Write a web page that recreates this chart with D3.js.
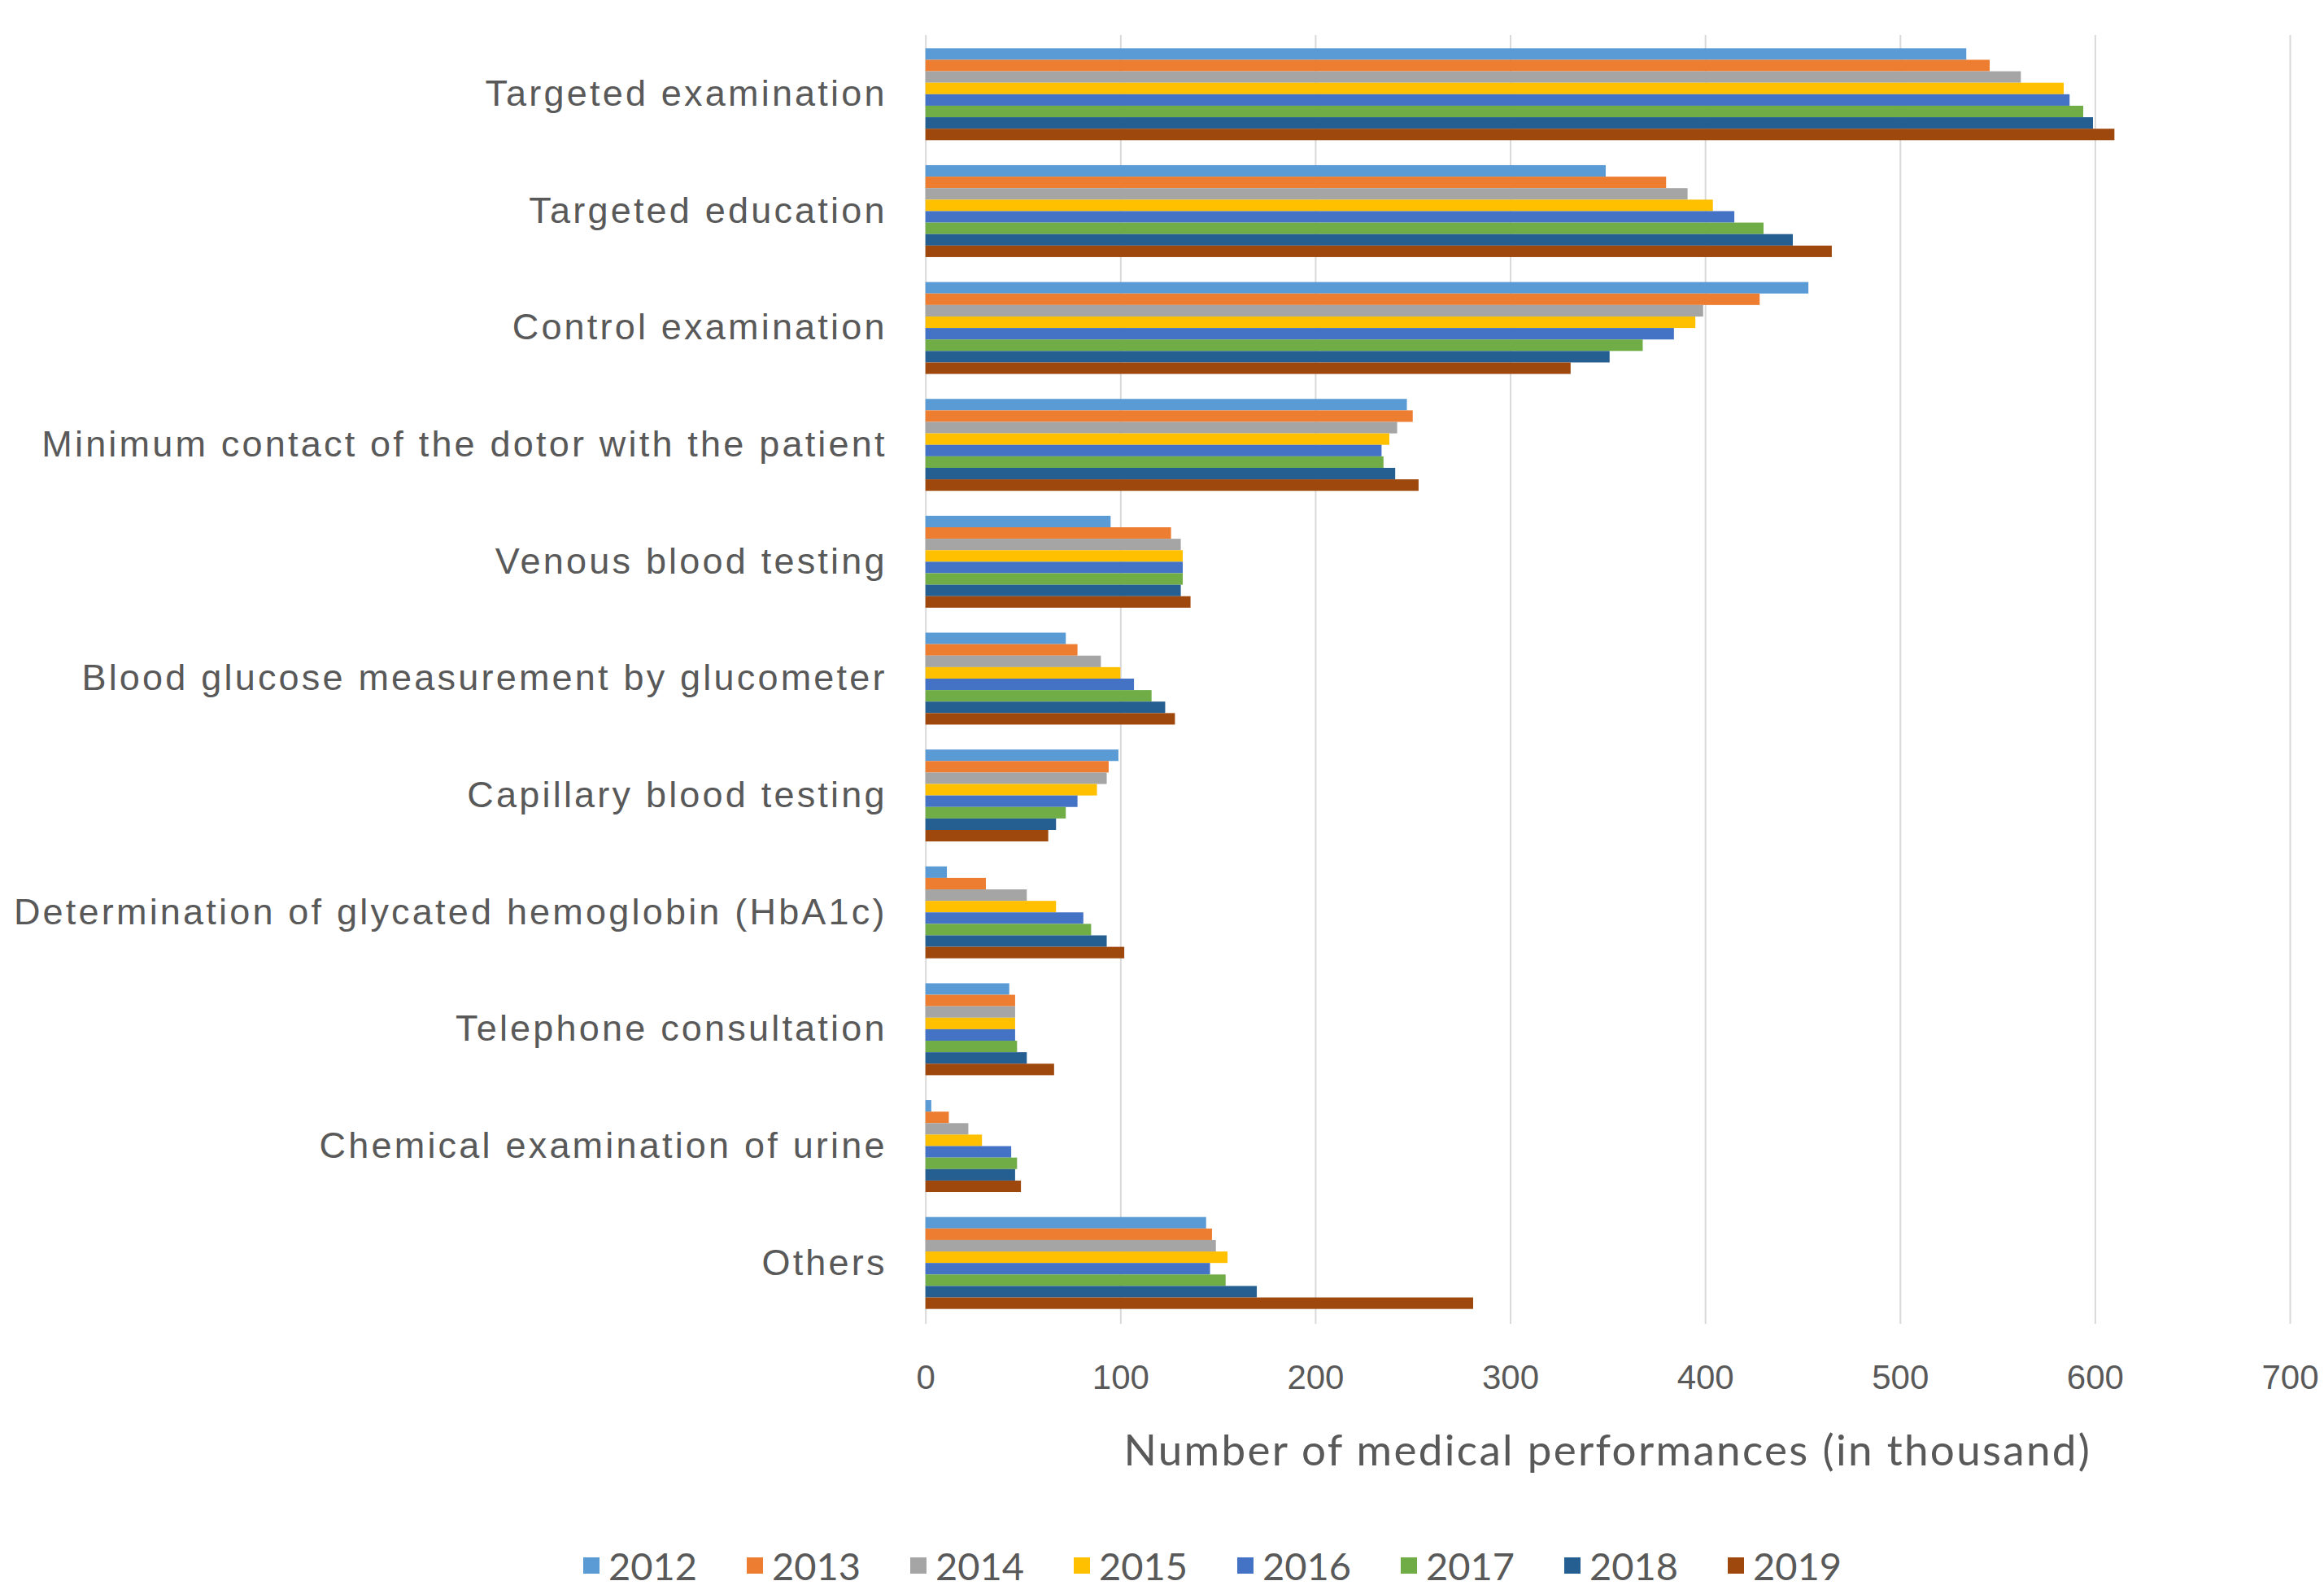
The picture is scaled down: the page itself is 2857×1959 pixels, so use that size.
<!DOCTYPE html>
<html>
<head>
<meta charset="utf-8">
<script src="https://cdn.jsdelivr.net/npm/d3@7"></script>
<style>
  html, body { margin: 0; padding: 0; background: #ffffff; }
  svg { display: block; font-family: Lato, "Open Sans", sans-serif; }
</style>
</head>
<body>
<svg id="chart" width="2857" height="1959"></svg>
<script>
const categories = [
  "Targeted examination",
  "Targeted education",
  "Control examination",
  "Minimum contact of the dotor with the patient",
  "Venous blood testing",
  "Blood glucose measurement by glucometer",
  "Capillary blood testing",
  "Determination of glycated hemoglobin (HbA1c)",
  "Telephone consultation",
  "Chemical examination of urine",
  "Others"
];
const years = ["2012", "2013", "2014", "2015", "2016", "2017", "2018", "2019"];
const colors = ["#5B9BD5", "#ED7D31", "#A5A5A5", "#FFC000", "#4472C4", "#70AD47", "#255E91", "#9E480E"];

// values in thousands, one array per year, in category order
const v2012 = [534, 349, 453, 247, 95, 72, 99, 11, 43, 3, 144];
const v2013 = [546, 380, 428, 250, 126, 78, 94, 31, 46, 12, 147];
const v2014 = [562, 391, 399, 242, 131, 90, 93, 52, 46, 22, 149];
const v2015 = [584, 404, 395, 238, 132, 100, 88, 67, 46, 29, 155];
const v2016 = [587, 415, 384, 234, 132, 107, 78, 81, 46, 44, 146];
const v2017 = [594, 430, 368, 235, 132, 116, 72, 85, 47, 47, 154];
const v2018 = [599, 445, 351, 241, 131, 123, 67, 93, 52, 46, 170];
const v2019 = [610, 465, 331, 253, 136, 128, 63, 102, 66, 49, 281];
const xTicks = [0, 100, 200, 300, 400, 500, 600, 700];
const xTitle = "Number of medical performances  (in thousand)";

const series = [v2012, v2013, v2014, v2015, v2016, v2017, v2018, v2019];
const table = categories.map((c, i) => ({
  category: c,
  values: years.map((y, j) => ({ year: y, value: series[j][i], color: colors[j] }))
}));

const svg = d3.select("#chart");
const plotLeft = 1137.7, plotRight = 2815, plotTop = 44, plotBottom = 1624;
const textColor = "#595959";

const x = d3.scaleLinear().domain([0, 700]).range([plotLeft, plotRight]);
const y0 = d3.scaleBand().domain(categories).range([plotTop, plotBottom])
  .paddingInner(0.2135).paddingOuter(0.2135 / 2);
const y1 = d3.scaleBand().domain(years).range([0, y0.bandwidth()]);

// gridlines + x tick labels
const xAxis = svg.append("g")
  .attr("transform", `translate(0,${plotBottom + 3})`)
  .call(d3.axisBottom(x).tickValues(xTicks).tickSize(-(plotBottom + 3 - plotTop + 1)).tickPadding(50).tickFormat(d3.format("d")));
xAxis.select(".domain").remove();
xAxis.selectAll(".tick line").attr("stroke", "#D9D9D9").attr("stroke-width", 2);
xAxis.selectAll(".tick text").attr("fill", textColor).attr("font-size", 42);

// bars
const groups = svg.append("g").selectAll("g")
  .data(table).join("g")
  .attr("transform", d => `translate(0,${y0(d.category)})`);
groups.selectAll("rect")
  .data(d => d.values).join("rect")
  .attr("x", x(0))
  .attr("y", d => y1(d.year))
  .attr("height", y1.bandwidth())
  .attr("width", d => x(d.value) - x(0))
  .attr("fill", d => d.color);

// category axis
const yAxis = svg.append("g")
  .attr("transform", `translate(${plotLeft},0)`)
  .call(d3.axisLeft(y0).tickSize(0).tickPadding(47));
yAxis.select(".domain").remove();
yAxis.selectAll(".tick text")
  .attr("fill", textColor)
  .attr("font-size", 45)
  .attr("letter-spacing", 3.2);

// x axis title
svg.append("text")
  .attr("x", (plotLeft + plotRight) / 2)
  .attr("y", 1780)
  .attr("text-anchor", "middle")
  .attr("dominant-baseline", "central")
  .attr("fill", textColor)
  .attr("font-size", 53)
  .attr("letter-spacing", 2.3)
  .text(xTitle);

// legend
const legend = svg.append("g").selectAll("g")
  .data(years).join("g")
  .attr("transform", (d, i) => `translate(${717 + i * 201},1924)`);
legend.append("rect")
  .attr("x", 0).attr("y", -10).attr("width", 20).attr("height", 20)
  .attr("fill", (d, i) => colors[i]);
legend.append("text")
  .attr("x", 31).attr("y", 0)
  .attr("dominant-baseline", "central")
  .attr("fill", textColor)
  .attr("font-size", 47)
  .text(d => d);
</script>
</body>
</html>
